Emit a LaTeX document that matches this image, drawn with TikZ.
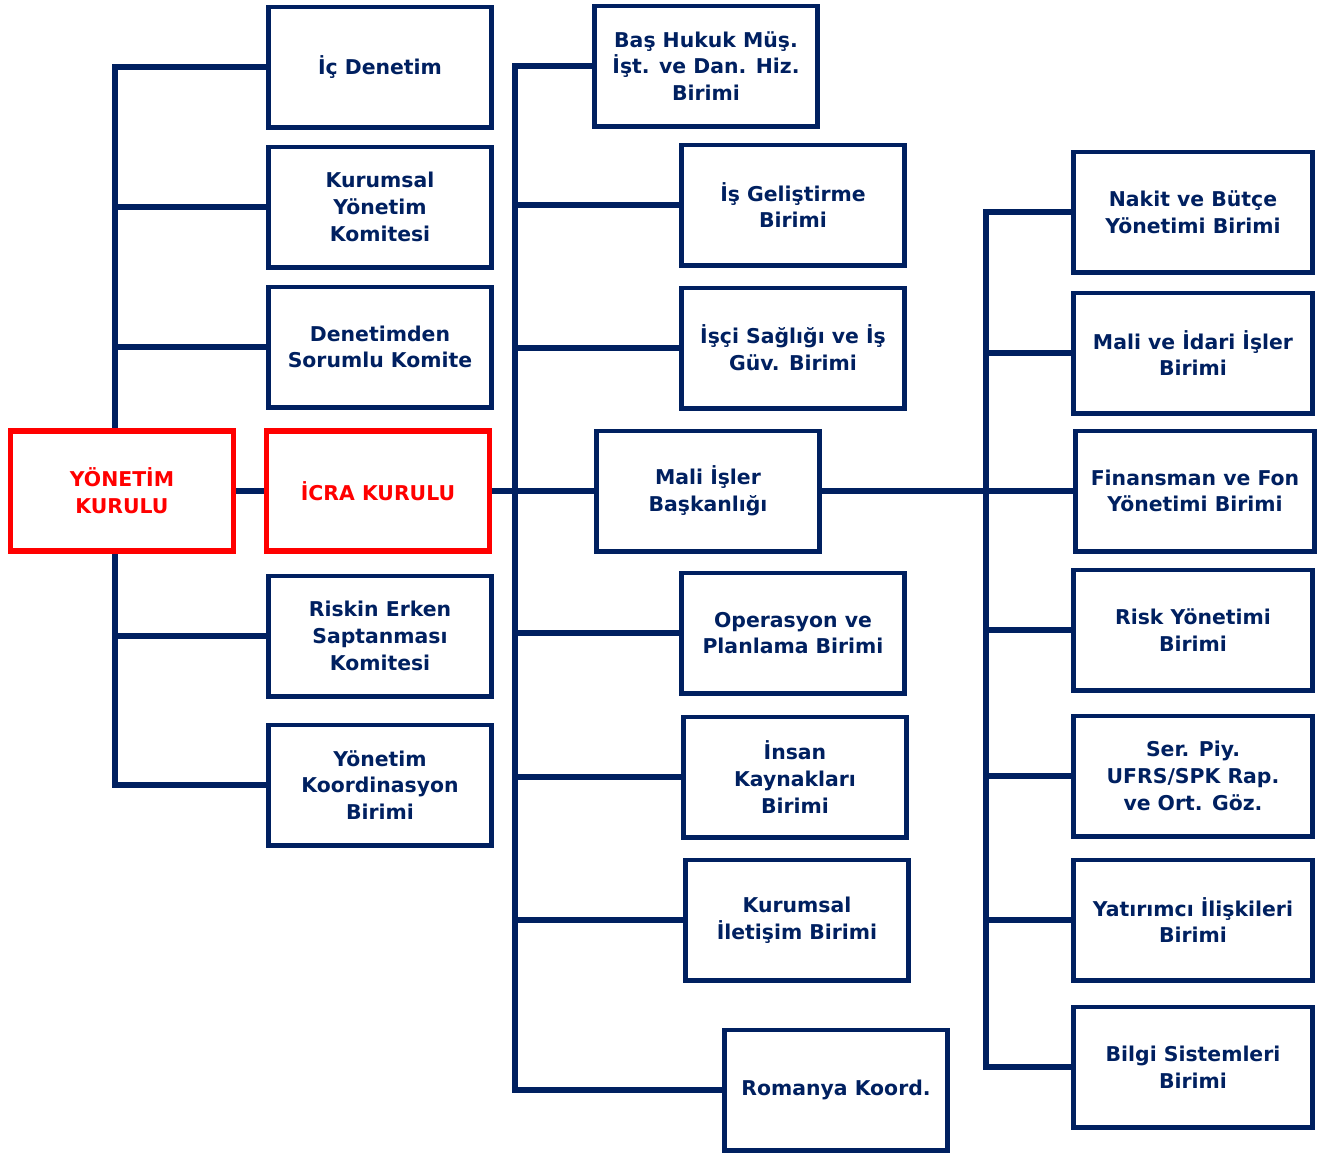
\documentclass[tikz,border=0pt]{standalone}
\usepackage{fontspec}
\setmainfont{DejaVu Sans}
\usepackage{tikz}
\definecolor{navy}{HTML}{002060}
\definecolor{alarm}{HTML}{FF0000}
\tikzset{
  unit/.style={draw=navy, line width=1.4pt, text=navy, align=center, inner sep=1pt,
    minimum width=2.23cm, minimum height=1.2cm, font=\fontsize{5.8}{7.6}\selectfont\bfseries},
  wideunit/.style={unit, minimum width=2.38cm},
  board/.style={unit, draw=alarm, text=alarm, line width=1.6pt},
  link/.style={draw=navy, line width=1.5pt},
}

\begin{document}
\begin{tikzpicture}[x=0.01cm, y=-0.01cm]
  \useasboundingbox (0,0) rectangle (1332,1153);
  % boards
  \node[board] (yk) at (122,491) {YÖNETİM\\KURULU};
  \node[board] (icra) at (378,491) {İCRA KURULU};
  % committees under the board
  \node[unit] (ic) at (380,67) {İç Denetim};
  \node[unit] (kyk) at (380,207) {Kurumsal\\Yönetim\\Komitesi};
  \node[unit] (dsk) at (380,347) {Denetimden\\Sorumlu Komite};
  \node[unit] (resk) at (380,636) {Riskin Erken\\Saptanması\\Komitesi};
  \node[unit] (ykb) at (380,785) {Yönetim\\Koordinasyon\\Birimi};
  % units under the executive board
  \node[unit] (bhm) at (706,66) {Baş Hukuk Müş.\\İşt. ve Dan. Hiz.\\Birimi};
  \node[unit] (igb) at (793,205) {İş Geliştirme\\Birimi};
  \node[unit] (isg) at (793,348) {İşçi Sağlığı ve İş\\Güv. Birimi};
  \node[unit] (mib) at (708,491) {Mali İşler\\Başkanlığı};
  \node[unit] (opb) at (793,633) {Operasyon ve\\Planlama Birimi};
  \node[unit] (ikb) at (795,777) {İnsan\\Kaynakları\\Birimi};
  \node[unit] (kib) at (797,920) {Kurumsal\\İletişim Birimi};
  \node[unit] (rom) at (836,1090) {Romanya Koord.};
  % finance units
  \node[wideunit] (nbb) at (1193,212) {Nakit ve Bütçe\\Yönetimi Birimi};
  \node[wideunit] (mii) at (1193,353) {Mali ve İdari İşler\\Birimi};
  \node[wideunit] (ffy) at (1195,491) {Finansman ve Fon\\Yönetimi Birimi};
  \node[wideunit] (ryb) at (1193,630) {Risk Yönetimi\\Birimi};
  \node[wideunit] (spu) at (1193,776) {Ser. Piy.\\UFRS/SPK Rap.\\ve Ort. Göz.};
  \node[wideunit] (yib) at (1193,920) {Yatırımcı İlişkileri\\Birimi};
  \node[wideunit] (bsb) at (1193,1067) {Bilgi Sistemleri\\Birimi};
  % spines
  \coordinate (ls) at (115,491);
  \coordinate (ms) at (515,491);
  \coordinate (rs) at (986,491);
  % left tree
  \draw[link] (ic.west) -| (ls |- yk.north);
  \draw[link] (ykb.west) -| (ls |- yk.south);
  \draw[link] (kyk.west) -- (kyk.west -| ls);
  \draw[link] (dsk.west) -- (dsk.west -| ls);
  \draw[link] (resk.west) -- (resk.west -| ls);
  \draw[link] (yk.east) -- (icra.west);
  % middle tree
  \draw[link] (bhm.west) -| (ms) |- (rom.west);
  \draw[link] (igb.west) -- (igb.west -| ms);
  \draw[link] (isg.west) -- (isg.west -| ms);
  \draw[link] (opb.west) -- (opb.west -| ms);
  \draw[link] (ikb.west) -- (ikb.west -| ms);
  \draw[link] (kib.west) -- (kib.west -| ms);
  \draw[link] (icra.east) -- (mib.west);
  % right tree
  \draw[link] (nbb.west) -| (rs) |- (bsb.west);
  \draw[link] (mii.west) -- (mii.west -| rs);
  \draw[link] (ryb.west) -- (ryb.west -| rs);
  \draw[link] (spu.west) -- (spu.west -| rs);
  \draw[link] (yib.west) -- (yib.west -| rs);
  \draw[link] (mib.east) -- (ffy.west);
\end{tikzpicture}
\end{document}
